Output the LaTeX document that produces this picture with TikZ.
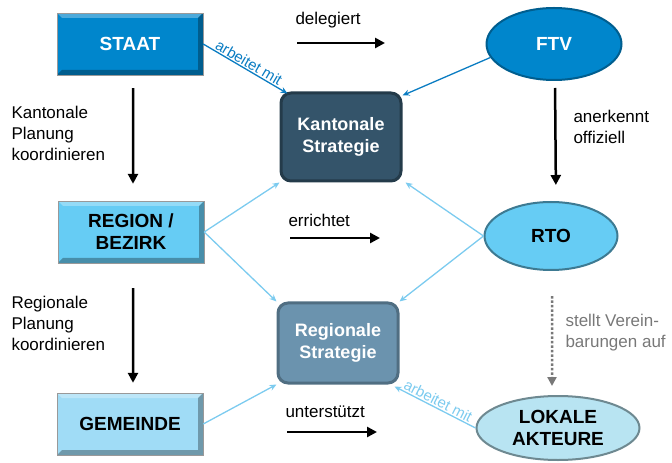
\documentclass[tikz,border=0pt]{standalone}
\usepackage{fontspec}
\setmainfont{Liberation Sans}
\usetikzlibrary{shapes.geometric, arrows.meta, positioning}
\definecolor{blu1}{RGB}{0,134,204}
\definecolor{blu2}{RGB}{102,204,244}
\definecolor{blu3}{RGB}{160,220,246}
\definecolor{blu4}{RGB}{184,228,242}
\definecolor{kant1}{RGB}{52,84,106}
\definecolor{reg1}{RGB}{107,147,174}
\definecolor{link1}{RGB}{10,124,194}
\definecolor{link2}{RGB}{124,203,239}
\definecolor{grau1}{RGB}{120,120,120}
\tikzstyle{bevel} = [path picture={
    \fill[white,opacity=0.3] (path picture bounding box.north west) -- (path picture bounding box.north east)
        -- ++(-5bp,-5bp) -- ([shift={(5bp,-5bp)}]path picture bounding box.north west) -- cycle;
    \fill[black,opacity=0.3] (path picture bounding box.south west) -- (path picture bounding box.south east)
        -- (path picture bounding box.north east) -- ++(-5bp,-5bp)
        -- ([shift={(-5bp,5bp)}]path picture bounding box.south east)
        -- ([shift={(5bp,5bp)}]path picture bounding box.south west) -- cycle;}]
\tikzstyle{ebene} = [rectangle, bevel, draw=black!40, minimum width=146bp, minimum height=62bp,
    align=center, font=\fontsize{19bp}{22bp}\selectfont\bfseries]
\tikzstyle{strat} = [rectangle, rounded corners=10bp, line width=3bp, minimum width=120bp,
    align=center, text=white, font=\fontsize{18bp}{22bp}\selectfont\bfseries]
\tikzstyle{oval} = [ellipse, line width=2bp, align=center,
    font=\fontsize{19bp}{22bp}\selectfont\bfseries]
\tikzstyle{txt} = [align=left, font=\fontsize{17bp}{21bp}\selectfont]
\tikzstyle{arrow} = [line width=2.5bp, -{Triangle[length=10bp,width=10bp]}]
\tikzstyle{link} = [line width=1.3bp, -{Stealth[length=7bp,width=6bp]}]
\tikzstyle{mitlabel} = [sloped, above, midway, inner sep=1bp, font=\fontsize{15bp}{17bp}\selectfont]

\begin{document}
\begin{tikzpicture}[x=1bp, y=-1bp]
    \useasboundingbox (0,0) rectangle (672,463);

    % Ebenen links
    \node (staat) [ebene, fill=blu1, text=white] at (130,44) {STAAT};
    \node (region) [ebene, fill=blu2] at (131,232) {REGION /\\BEZIRK};
    \node (gemeinde) [ebene, fill=blu3] at (130,424) {GEMEINDE};

    % Strategien
    \node (kant) [strat, fill=kant1, draw=kant1!70!black, minimum height=88bp] at (341,137) {Kantonale\\Strategie};
    \node (regstrat) [strat, fill=reg1, draw=reg1!75!black, minimum height=80bp] at (338,343) {Regionale\\Strategie};

    % Akteure rechts
    \node (ftv) [oval, fill=blu1, draw=blu1!70!black, text=white, minimum width=135bp, minimum height=72bp] at (554,44) {FTV};
    \node (rto) [oval, fill=blu2, draw=blu2!60!black, minimum width=133bp, minimum height=68bp] at (551,236) {RTO};
    \node (lokal) [oval, fill=blu4, draw=blu4!60!black, minimum width=163bp, minimum height=64bp] at (558,428) {LOKALE\\AKTEURE};

    % Beschriftungen
    \node (kantplan) [txt, anchor=west] at (8,133) {Kantonale\\Planung\\koordinieren};
    \node (regplan) [txt, anchor=west] at (8,323) {Regionale\\Planung\\koordinieren};
    \node (aner) [txt, anchor=west] at (570,127) {anerkennt\\offiziell};
    \node (verein) [txt, anchor=west, text=grau1] at (562,333) {stellt Verein-\\barungen auf};
    \node (deleg) [txt, anchor=west] at (292,20) {delegiert};
    \node (erricht) [txt, anchor=west] at (285,220) {errichtet};
    \node (unterst) [txt, anchor=west] at (282,412) {unterstützt};
    \coordinate (d1) at (297,43);
    \coordinate (d2) at (385,43);
    \coordinate (e1) at (290,238);
    \coordinate (e2) at (380,238);
    \coordinate (u1) at (287,432);
    \coordinate (u2) at (377,432);

    % Pfeile
    \draw [arrow] (d1) -- (d2);
    \draw [arrow] (e1) -- (e2);
    \draw [arrow] (u1) -- (u2);
    \draw [arrow, shorten <=13bp, shorten >=17bp] ([xshift=3bp]staat.south) -- ([xshift=2bp]region.north);
    \draw [arrow, shorten <=25bp, shorten >=10bp] ([xshift=2bp]region.south) -- ([xshift=3bp]gemeinde.south |- gemeinde.north);
    \draw [arrow, shorten <=7bp, shorten >=16bp] ([xshift=1bp]ftv.south) -- ([xshift=5bp]rto.north);
    \draw [line width=2.5bp, grau1, dotted, -{Triangle[length=9bp,width=9bp]}, shorten <=25bp, shorten >=9bp]
        ([xshift=1bp]rto.south) -- ([xshift=-6bp]lokal.north);

    \draw [link, link1] (staat.east) -- node [mitlabel, text=link1] {arbeitet mit} ([shift={(8bp,-2bp)}]kant.north west);
    \draw [link, link1] (ftv.192) -- ([shift={(0bp,-4bp)}]kant.north east);
    \draw [link, link2] (region.east) -- (kant.south west);
    \draw [link, link2] (region.east) -- (regstrat.north west);
    \draw [link, link2] (rto.west) -- ([shift={(3bp,0bp)}]kant.south east);
    \draw [link, link2] (rto.west) -- (regstrat.north east);
    \draw [link, link2] (gemeinde.east) -- (regstrat.south west);
    \draw [link, link2] (lokal.west) -- node [mitlabel, text=link2] {arbeitet mit} ([shift={(-5bp,-2bp)}]regstrat.south east);
\end{tikzpicture}
\end{document}
